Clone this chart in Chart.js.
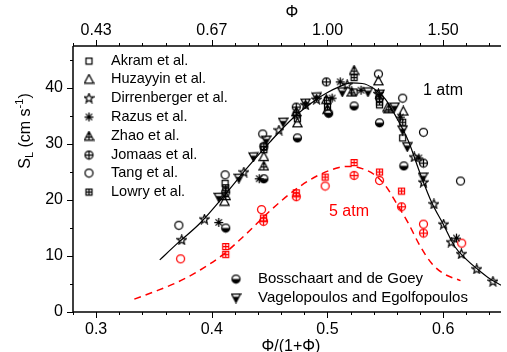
<!DOCTYPE html>
<html>
<head>
<meta charset="utf-8">
<script src="https://cdn.jsdelivr.net/npm/chart.js@4.4.0/dist/chart.umd.min.js"></script>
<style>
  html, body { margin: 0; padding: 0; background: #fff; }
  #wrap { width: 507px; height: 352px; }
</style>
</head>
<body>
<div id="wrap"><canvas id="myChart" width="507" height="352"></canvas></div>
<script>
// ---- data ----
const xTicks = [0.3, 0.4, 0.5, 0.6];
const phiLabels = ['0.43', '0.67', '1.00', '1.50'];
const yTicks = [0, 10, 20, 30, 40];

const xCurve1 = [0.355, 0.37, 0.39, 0.41, 0.43, 0.45, 0.47, 0.49, 0.50, 0.51, 0.52, 0.53, 0.54, 0.55, 0.56, 0.57, 0.58, 0.59, 0.60, 0.61, 0.62, 0.63, 0.64, 0.65];
const yCurve1 = [9.3, 12.2, 15.9, 20.6, 25.6, 30.3, 34.6, 37.9, 39.2, 40.2, 40.9, 40.8, 39.9, 38.0, 34.6, 30.5, 24.8, 19.6, 15.7, 11.7, 9.4, 7.6, 6.0, 4.8];
const xCurve5 = [0.333, 0.35, 0.37, 0.39, 0.41, 0.43, 0.45, 0.47, 0.49, 0.51, 0.52, 0.53, 0.54, 0.55, 0.56, 0.57, 0.58, 0.59, 0.60, 0.615];
const yCurve5 = [2.3, 3.6, 5.3, 7.5, 10.3, 14.0, 18.0, 21.5, 24.2, 25.8, 26.0, 25.6, 24.6, 22.6, 19.3, 15.8, 11.8, 8.7, 6.9, 5.6];

const akram = [[0.4115, 23.0], [0.445, 29.5], [0.474, 34.5], [0.500, 37.8], [0.523, 39.3], [0.545, 37.0], [0.565, 31.1]];
const huzayyin = [[0.411, 19.8], [0.445, 27.8], [0.474, 33.8], [0.500, 36.2], [0.544, 41.3], [0.552, 36.6], [0.5655, 35.9]];
const dirrenberger = [[0.374, 12.9], [0.3936, 16.6], [0.4277, 25.0], [0.458, 32.5], [0.481, 37.0], [0.4906, 38.0], [0.517, 40.6], [0.544, 39.0], [0.575, 27.7], [0.583, 23.2], [0.592, 19.3], [0.6004, 15.7], [0.607, 12.5], [0.6157, 10.4], [0.629, 7.7], [0.643, 5.5]];
const razus = [[0.406, 16.0], [0.441, 23.8], [0.504, 38.2], [0.511, 41.1], [0.529, 39.6], [0.563, 34.8], [0.579, 27.5], [0.6115, 13.2]];
const zhao = [[0.412, 20.8], [0.445, 26.1], [0.473, 35.8], [0.499, 38.0], [0.521, 39.3], [0.523, 43.2], [0.553, 36.3]];
const jomaas = [[0.412, 21.4], [0.445, 29.6], [0.473, 36.6], [0.499, 41.1], [0.545, 38.2], [0.583, 26.6]];
const tang = [[0.3715, 15.5], [0.4115, 24.5], [0.444, 31.8], [0.544, 42.5], [0.565, 38.2], [0.583, 32.1], [0.615, 23.4]];
const lowry = [[0.412, 22.2], [0.445, 29.0], [0.473, 35.2], [0.500, 36.6], [0.523, 41.9], [0.545, 37.5], [0.565, 33.9]];
const bosschaart = [[0.412, 15.0], [0.445, 23.8], [0.474, 31.1], [0.501, 35.5], [0.523, 36.8], [0.545, 33.8], [0.566, 26.1]];
const vagelopoulos = [[0.406, 20.5], [0.4234, 23.9], [0.436, 27.7], [0.447, 30.7], [0.4617, 33.9], [0.481, 37.3], [0.4906, 38.4], [0.5128, 39.3], [0.535, 39.3], [0.545, 38.9], [0.558, 36.6], [0.565, 32.5], [0.569, 29.5], [0.5826, 24.1]];

const tang5 = [[0.373, 9.5], [0.443, 18.3], [0.498, 22.5], [0.545, 23.5], [0.583, 15.7], [0.616, 12.3]];
const jomaas5 = [[0.4447, 16.2], [0.473, 20.6], [0.523, 24.4], [0.564, 18.8], [0.583, 14.1]];
const lowry5 = [[0.412, 11.7], [0.412, 10.3], [0.4447, 16.8], [0.473, 21.3], [0.498, 24.1], [0.523, 26.7], [0.545, 25.0], [0.564, 21.6]];

const topLegend = ['Akram et al.', 'Huzayyin et al.', 'Dirrenberger et al.', 'Razus et al.', 'Zhao et al.', 'Jomaas et al.', 'Tang et al.', 'Lowry et al.'];
const topKinds = ['square', 'triangle', 'star', 'asterisk', 'zhao', 'circlePlus', 'circle', 'squarePlus'];
const bottomLegend = ['Bosschaart and de Goey', 'Vagelopoulos and Egolfopoulos'];
const bottomKinds = ['halfCircle', 'halfTriangle'];

const RED = '#ff0000';
const FONT = "'Liberation Sans', Arial, sans-serif";

// ---- marker glyphs ----
function makeMarker(kind, color) {
    const c = document.createElement('canvas');
    c.width = 11; c.height = 11;
    const g = c.getContext('2d');
    g.strokeStyle = color; g.fillStyle = color; g.lineWidth = 1.25;
    const m = 5.5;
    g.beginPath();
    if (kind === 'square' || kind === 'squarePlus') {
        g.rect(2.5, 2.5, 6, 6);
        if (kind === 'squarePlus') {
            g.moveTo(m, 2.5); g.lineTo(m, 8.5);
            g.moveTo(2.5, m); g.lineTo(8.5, m);
        }
        g.stroke();
    } else if (kind === 'circle' || kind === 'circlePlus') {
        g.arc(m, m, 4, 0, Math.PI * 2);
        if (kind === 'circlePlus') {
            g.moveTo(m, 1.5); g.lineTo(m, 9.5);
            g.moveTo(1.5, m); g.lineTo(9.5, m);
        }
        g.stroke();
    } else if (kind === 'triangle' || kind === 'zhao') {
        g.moveTo(m, 1); g.lineTo(10, 9.5); g.lineTo(1, 9.5); g.closePath();
        if (kind === 'zhao') {
            g.moveTo(m, 1); g.lineTo(m, 9.5);
            g.moveTo(3, 6.5); g.lineTo(8, 6.5);
        }
        g.stroke();
    } else if (kind === 'star') {
        for (let i = 0; i < 10; i++) {
            const r = i % 2 === 0 ? 4.8 : 2.1;
            const a = -Math.PI / 2 + i * Math.PI / 5;
            const px = m + r * Math.cos(a), py = m + 0.4 + r * Math.sin(a);
            if (i === 0) g.moveTo(px, py); else g.lineTo(px, py);
        }
        g.closePath();
        g.stroke();
    } else if (kind === 'asterisk') {
        for (let i = 0; i < 4; i++) {
            const a = i * Math.PI / 4;
            g.moveTo(m - 4.5 * Math.cos(a), m - 4.5 * Math.sin(a));
            g.lineTo(m + 4.5 * Math.cos(a), m + 4.5 * Math.sin(a));
        }
        g.stroke();
    } else if (kind === 'halfCircle') {
        g.arc(m, m, 4, 0, Math.PI * 2);
        g.stroke();
        g.beginPath();
        g.arc(m, m, 4, 0, Math.PI);
        g.closePath();
        g.fill();
    } else if (kind === 'halfTriangle') {
        g.moveTo(1, 1.5); g.lineTo(10, 1.5); g.lineTo(m, 10); g.closePath();
        g.stroke();
        g.beginPath();
        g.moveTo(2.4, 4.2); g.lineTo(8.6, 4.2); g.lineTo(m, 10); g.closePath();
        g.fill();
    }
    return c;
}

function pts(arr) { return arr.map(p => ({ x: p[0], y: p[1] })); }
function curve(xs, ys) { return xs.map((x, i) => ({ x: x, y: ys[i] })); }

function scatterSet(label, data, kind, color) {
    return {
        type: 'scatter', label: label, data: pts(data),
        pointStyle: makeMarker(kind, color), pointRadius: 5, showLine: false
    };
}

const datasets = [
    scatterSet('Akram et al.', akram, 'square', '#000'),
    scatterSet('Huzayyin et al.', huzayyin, 'triangle', '#000'),
    scatterSet('Dirrenberger et al.', dirrenberger, 'star', '#000'),
    scatterSet('Razus et al.', razus, 'asterisk', '#000'),
    scatterSet('Zhao et al.', zhao, 'zhao', '#000'),
    scatterSet('Jomaas et al.', jomaas, 'circlePlus', '#000'),
    scatterSet('Tang et al.', tang, 'circle', '#000'),
    scatterSet('Lowry et al.', lowry, 'squarePlus', '#000'),
    scatterSet('Bosschaart and de Goey', bosschaart, 'halfCircle', '#000'),
    scatterSet('Vagelopoulos and Egolfopoulos', vagelopoulos, 'halfTriangle', '#000'),
    scatterSet('Tang 5 atm', tang5, 'circle', RED),
    scatterSet('Jomaas 5 atm', jomaas5, 'circlePlus', RED),
    scatterSet('Lowry 5 atm', lowry5, 'squarePlus', RED),
    {
        type: 'line', label: '1 atm', data: curve(xCurve1, yCurve1),
        borderColor: '#000', borderWidth: 1.2, pointRadius: 0,
        cubicInterpolationMode: 'monotone', fill: false
    },
    {
        type: 'line', label: '5 atm', data: curve(xCurve5, yCurve5),
        borderColor: RED, borderWidth: 1.5, borderDash: [7, 5], pointRadius: 0,
        cubicInterpolationMode: 'monotone', fill: false
    }
];

// axes, ticks, titles and legends drawn on the library's scales
const decor = {
    id: 'decor',
    afterDraw(chart) {
        const ctx = chart.ctx, a = chart.chartArea;
        const xs = chart.scales.x, ys = chart.scales.y;
        ctx.save();
        ctx.strokeStyle = '#000'; ctx.fillStyle = '#000'; ctx.lineWidth = 1.5;
        ctx.beginPath();
        ctx.moveTo(a.left, a.top); ctx.lineTo(a.right, a.top);
        ctx.moveTo(a.left, a.top); ctx.lineTo(a.left, a.bottom);
        ctx.moveTo(a.left, a.bottom); ctx.lineTo(a.right, a.bottom);
        ctx.stroke();

        ctx.lineWidth = 1;
        ctx.beginPath();
        for (let k = 14; k <= 33; k++) {
            const v = k * 0.02;
            const px = Math.round(xs.getPixelForValue(v)) + 0.5;
            const len = (k % 5 === 0) ? 6 : 3;
            ctx.moveTo(px, a.bottom); ctx.lineTo(px, a.bottom + len);
            ctx.moveTo(px, a.top); ctx.lineTo(px, a.top - len);
        }
        for (let v = 0; v <= 45; v += 5) {
            const py = Math.round(ys.getPixelForValue(v)) + 0.5;
            const len = (v % 10 === 0) ? 6 : 3;
            ctx.moveTo(a.left, py); ctx.lineTo(a.left - len, py);
        }
        ctx.stroke();

        ctx.font = '16px ' + FONT;
        ctx.textAlign = 'center'; ctx.textBaseline = 'middle';
        xTicks.forEach((v, i) => {
            const px = xs.getPixelForValue(v);
            ctx.fillText(String(v), px, 330);
            ctx.fillText(phiLabels[i], px, 31);
        });
        ctx.textAlign = 'right';
        yTicks.forEach(v => ctx.fillText(String(v), 63, ys.getPixelForValue(v)));

        // axis titles
        ctx.textAlign = 'center';
        ctx.fillText('Φ', 292, 13);
        ctx.textBaseline = 'top';
        ctx.fillText('Φ/(1+Φ)', 291, 339);

        ctx.save();
        ctx.translate(26, 131);
        ctx.rotate(-Math.PI / 2);
        ctx.textAlign = 'left'; ctx.textBaseline = 'middle';
        const parts = [['S', 16, 0], ['L', 11, 4], [' (cm s', 16, 0], ['-1', 11, -6], [')', 16, 0]];
        let total = 0;
        parts.forEach(p => { ctx.font = p[1] + 'px ' + FONT; total += ctx.measureText(p[0]).width; });
        let cx = -total / 2;
        parts.forEach(p => {
            ctx.font = p[1] + 'px ' + FONT;
            ctx.fillText(p[0], cx, p[2]);
            cx += ctx.measureText(p[0]).width;
        });
        ctx.restore();

        // legends
        ctx.textAlign = 'left'; ctx.textBaseline = 'middle';
        ctx.font = '14.5px ' + FONT;
        topLegend.forEach((t, i) => {
            const y = 60.5 + i * 18.8;
            const mk = makeMarker(topKinds[i], '#000');
            ctx.drawImage(mk, 89 - 5.5, Math.round(y) - 5.5);
            ctx.fillText(t, 111, y);
        });
        ctx.font = '15px ' + FONT;
        bottomLegend.forEach((t, i) => {
            const y = 279 + i * 18.5;
            const mk = makeMarker(bottomKinds[i], '#000');
            ctx.drawImage(mk, 236 - 5.5, Math.round(y) - 5.5);
            ctx.fillText(t, 258, y);
        });

        ctx.font = '16px ' + FONT;
        ctx.fillText('1 atm', 423, 91);
        ctx.fillStyle = RED;
        ctx.fillText('5 atm', 329, 212);
        ctx.restore();
    }
};

const canvasElement = document.getElementById('myChart');

const config = {
    type: 'scatter',
    data: { datasets: datasets },
    options: {
        responsive: false,
        animation: false,
        events: [],
        layout: { padding: 0 },
        plugins: { legend: { display: false }, tooltip: { enabled: false } },
        scales: {
            x: {
                type: 'linear', position: 'bottom', min: 0.28, max: 0.65,
                grid: { display: false, drawTicks: false }, border: { display: false },
                ticks: { display: false },
                afterFit: s => { s.height = 40; }
            },
            x2: {
                type: 'linear', position: 'top', min: 0.28, max: 0.65,
                grid: { display: false, drawTicks: false }, border: { display: false },
                ticks: { display: false },
                afterFit: s => { s.height = 46; }
            },
            y: {
                type: 'linear', position: 'left', min: 0, max: 47.5,
                grid: { display: false, drawTicks: false }, border: { display: false },
                ticks: { display: false },
                afterFit: s => { s.width = 73; }
            }
        }
    },
    plugins: [decor]
};

const myChart = new Chart(canvasElement, config);
</script>
</body>
</html>
